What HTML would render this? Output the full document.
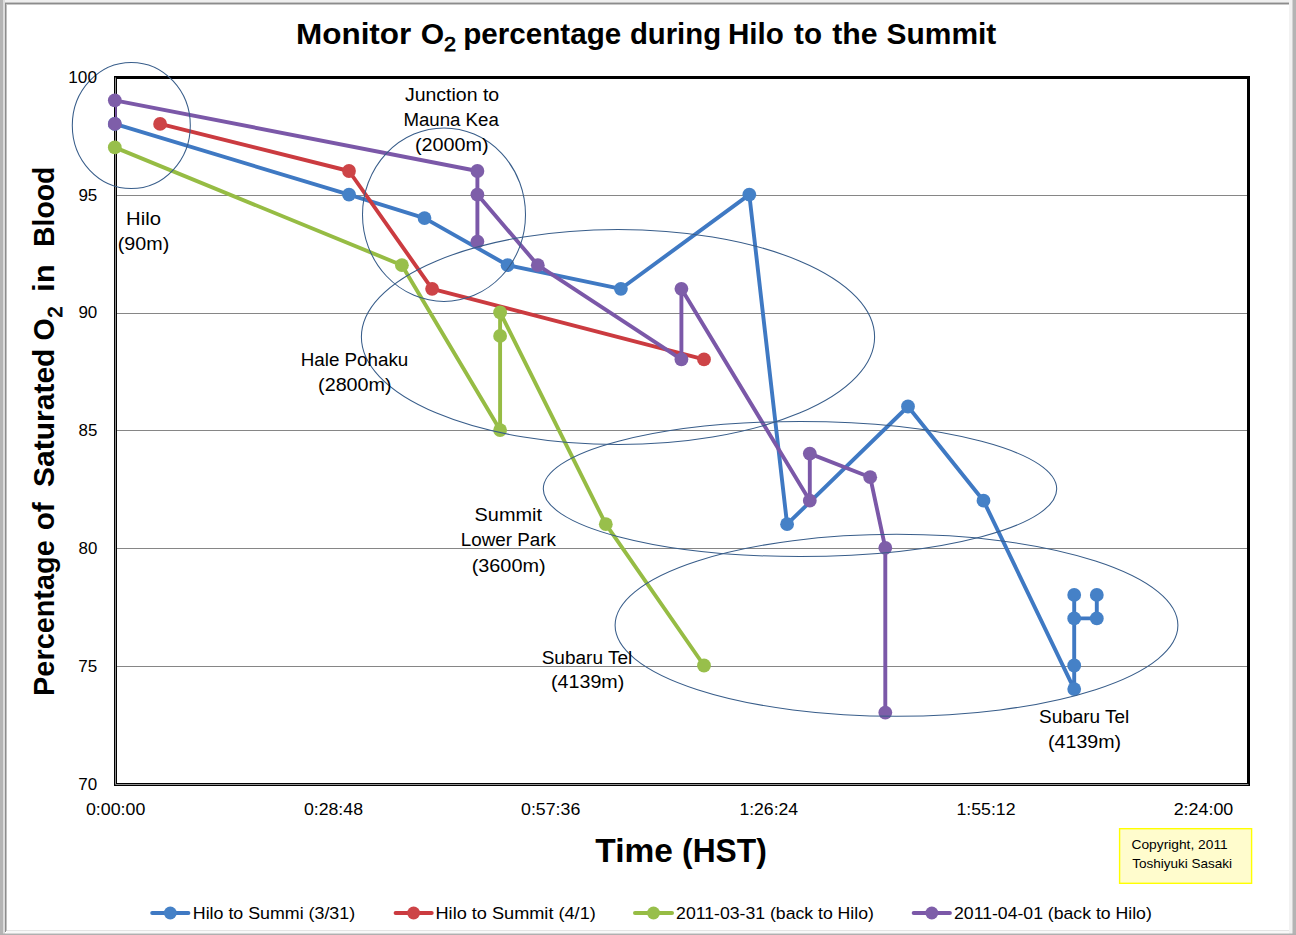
<!DOCTYPE html>
<html><head><meta charset="utf-8"><title>Monitor O2 percentage during Hilo to the Summit</title>
<style>
html,body{margin:0;padding:0;background:#fff;}
body{width:1296px;height:935px;overflow:hidden;}
svg{display:block;}
text{font-family:"Liberation Sans",sans-serif;fill:#000;}
</style></head><body>
<svg width="1296" height="935" viewBox="0 0 1296 935">
<rect x="0" y="0" width="1296" height="935" fill="#fff"/>
<rect x="0" y="0" width="1296" height="2" fill="#efefef"/>
<rect x="5" y="2" width="1285" height="1" fill="#c4c4c4"/>
<rect x="5" y="3" width="1285" height="1" fill="#8c8c8c"/>
<rect x="5" y="4" width="1285" height="1" fill="#c8c8c8"/>
<rect x="0" y="0" width="3" height="935" fill="#b4b4b4"/>
<rect x="3" y="0" width="2" height="935" fill="#dcdcdc"/>
<rect x="5" y="3" width="1" height="929" fill="#8c8c8c"/>
<rect x="6" y="4" width="1" height="927" fill="#c0c0c0"/>
<rect x="1289" y="0" width="4" height="935" fill="#f2f2f2"/>
<rect x="1292.5" y="0" width="3.5" height="935" fill="#b4b4b4"/>
<rect x="7" y="930" width="1282" height="1" fill="#e4e4e4"/>
<rect x="7" y="931" width="1282" height="2" fill="#f8f8f8"/>
<rect x="0" y="933.5" width="1296" height="1.5" fill="#b0b0b0"/>
<line x1="115.5" y1="195.5" x2="1247.0" y2="195.5" stroke="#868686" stroke-width="1"/>
<line x1="115.5" y1="313.5" x2="1247.0" y2="313.5" stroke="#868686" stroke-width="1"/>
<line x1="115.5" y1="430.5" x2="1247.0" y2="430.5" stroke="#868686" stroke-width="1"/>
<line x1="115.5" y1="548.5" x2="1247.0" y2="548.5" stroke="#868686" stroke-width="1"/>
<line x1="115.5" y1="666.5" x2="1247.0" y2="666.5" stroke="#868686" stroke-width="1"/>
<rect x="115.5" y="77.5" width="1133.0" height="707.0" fill="none" stroke="#000" stroke-width="3"/>
<line x1="115.5" y1="77.5" x2="115.5" y2="784.5" stroke="#909090" stroke-width="1"/>
<line x1="115.5" y1="784.5" x2="1248.5" y2="784.5" stroke="#909090" stroke-width="1"/>
<path d="M114.8 123.9 L349.0 194.6 L424.5 218.1 L507.6 265.2 L620.9 288.8 L749.3 194.6 L787.1 524.2 L908.0 406.5 L983.5 500.7 L1074.2 689.1 L1074.2 665.5 L1074.2 618.4 L1074.2 594.9 L1074.2 618.4 L1096.8 618.4 L1096.8 594.9" fill="none" stroke="#3f79c3" stroke-width="3.9" stroke-linejoin="round" stroke-linecap="round"/>
<circle cx="114.8" cy="123.9" r="6.9" fill="#4581c7"/>
<circle cx="349.0" cy="194.6" r="6.9" fill="#4581c7"/>
<circle cx="424.5" cy="218.1" r="6.9" fill="#4581c7"/>
<circle cx="507.6" cy="265.2" r="6.9" fill="#4581c7"/>
<circle cx="620.9" cy="288.8" r="6.9" fill="#4581c7"/>
<circle cx="749.3" cy="194.6" r="6.9" fill="#4581c7"/>
<circle cx="787.1" cy="524.2" r="6.9" fill="#4581c7"/>
<circle cx="908.0" cy="406.5" r="6.9" fill="#4581c7"/>
<circle cx="983.5" cy="500.7" r="6.9" fill="#4581c7"/>
<circle cx="1074.2" cy="689.1" r="6.9" fill="#4581c7"/>
<circle cx="1074.2" cy="665.5" r="6.9" fill="#4581c7"/>
<circle cx="1074.2" cy="618.4" r="6.9" fill="#4581c7"/>
<circle cx="1074.2" cy="594.9" r="6.9" fill="#4581c7"/>
<circle cx="1096.8" cy="618.4" r="6.9" fill="#4581c7"/>
<circle cx="1096.8" cy="594.9" r="6.9" fill="#4581c7"/>
<path d="M160.1 123.9 L349.0 171.0 L432.1 288.8 L704.0 359.4" fill="none" stroke="#cb3b40" stroke-width="3.9" stroke-linejoin="round" stroke-linecap="round"/>
<circle cx="160.1" cy="123.9" r="6.9" fill="#cd4447"/>
<circle cx="349.0" cy="171.0" r="6.9" fill="#cd4447"/>
<circle cx="432.1" cy="288.8" r="6.9" fill="#cd4447"/>
<circle cx="704.0" cy="359.4" r="6.9" fill="#cd4447"/>
<path d="M114.8 147.4 L401.9 265.2 L500.1 430.1 L500.1 335.9 L500.1 312.3 L605.8 524.2 L704.0 665.5" fill="none" stroke="#96bc44" stroke-width="3.9" stroke-linejoin="round" stroke-linecap="round"/>
<circle cx="114.8" cy="147.4" r="6.9" fill="#98bf4b"/>
<circle cx="401.9" cy="265.2" r="6.9" fill="#98bf4b"/>
<circle cx="500.1" cy="430.1" r="6.9" fill="#98bf4b"/>
<circle cx="500.1" cy="335.9" r="6.9" fill="#98bf4b"/>
<circle cx="500.1" cy="312.3" r="6.9" fill="#98bf4b"/>
<circle cx="605.8" cy="524.2" r="6.9" fill="#98bf4b"/>
<circle cx="704.0" cy="665.5" r="6.9" fill="#98bf4b"/>
<rect x="115" y="100.3" width="1.8" height="23.6" fill="#7b58a8"/>
<path d="M114.8 100.3 L477.4 171.0 L477.4 241.6 L477.4 194.6 L537.8 265.2 L681.4 359.4 L681.4 288.8 L809.8 500.7 L809.8 453.6 L870.2 477.2 L885.3 547.8 L885.3 712.6" fill="none" stroke="#7b58a8" stroke-width="3.9" stroke-linejoin="round" stroke-linecap="round"/>
<circle cx="114.8" cy="100.3" r="6.9" fill="#7e5ea9"/>
<circle cx="477.4" cy="171.0" r="6.9" fill="#7e5ea9"/>
<circle cx="477.4" cy="241.6" r="6.9" fill="#7e5ea9"/>
<circle cx="477.4" cy="194.6" r="6.9" fill="#7e5ea9"/>
<circle cx="537.8" cy="265.2" r="6.9" fill="#7e5ea9"/>
<circle cx="681.4" cy="359.4" r="6.9" fill="#7e5ea9"/>
<circle cx="681.4" cy="288.8" r="6.9" fill="#7e5ea9"/>
<circle cx="809.8" cy="500.7" r="6.9" fill="#7e5ea9"/>
<circle cx="809.8" cy="453.6" r="6.9" fill="#7e5ea9"/>
<circle cx="870.2" cy="477.2" r="6.9" fill="#7e5ea9"/>
<circle cx="885.3" cy="547.8" r="6.9" fill="#7e5ea9"/>
<circle cx="885.3" cy="712.6" r="6.9" fill="#7e5ea9"/>
<circle cx="114.8" cy="123.9" r="6.9" fill="#7e5ea9"/>
<ellipse cx="131.3" cy="125.5" rx="59" ry="63" fill="none" stroke="#385d8a" stroke-width="1.05"/>
<ellipse cx="444.0" cy="214.7" rx="81.5" ry="86.7" fill="none" stroke="#385d8a" stroke-width="1.05"/>
<ellipse cx="618.0" cy="337.0" rx="256.6" ry="107.6" fill="none" stroke="#385d8a" stroke-width="1.05"/>
<ellipse cx="800.0" cy="489.0" rx="256.7" ry="67.5" fill="none" stroke="#385d8a" stroke-width="1.05"/>
<ellipse cx="896.5" cy="625.3" rx="281.4" ry="91" fill="none" stroke="#385d8a" stroke-width="1.05"/>
<text x="68.3" y="82.6" font-size="16.90" font-weight="normal" text-anchor="start" textLength="28.7" lengthAdjust="spacingAndGlyphs">100</text>
<text x="78.4" y="200.5" font-size="16.90" font-weight="normal" text-anchor="start" textLength="18.9" lengthAdjust="spacingAndGlyphs">95</text>
<text x="78.4" y="318.4" font-size="16.90" font-weight="normal" text-anchor="start" textLength="18.9" lengthAdjust="spacingAndGlyphs">90</text>
<text x="78.5" y="436.3" font-size="16.90" font-weight="normal" text-anchor="start" textLength="18.8" lengthAdjust="spacingAndGlyphs">85</text>
<text x="78.5" y="554.2" font-size="16.90" font-weight="normal" text-anchor="start" textLength="18.8" lengthAdjust="spacingAndGlyphs">80</text>
<text x="78.3" y="672.1" font-size="16.90" font-weight="normal" text-anchor="start" textLength="19.0" lengthAdjust="spacingAndGlyphs">75</text>
<text x="78.3" y="790.0" font-size="16.90" font-weight="normal" text-anchor="start" textLength="18.9" lengthAdjust="spacingAndGlyphs">70</text>
<text x="85.9" y="815.0" font-size="16.90" font-weight="normal" text-anchor="start" textLength="59.4" lengthAdjust="spacingAndGlyphs">0:00:00</text>
<text x="303.9" y="815.0" font-size="16.90" font-weight="normal" text-anchor="start" textLength="59.1" lengthAdjust="spacingAndGlyphs">0:28:48</text>
<text x="521.0" y="815.0" font-size="16.90" font-weight="normal" text-anchor="start" textLength="59.3" lengthAdjust="spacingAndGlyphs">0:57:36</text>
<text x="739.4" y="815.0" font-size="16.90" font-weight="normal" text-anchor="start" textLength="58.7" lengthAdjust="spacingAndGlyphs">1:26:24</text>
<text x="956.5" y="815.0" font-size="16.90" font-weight="normal" text-anchor="start" textLength="59.0" lengthAdjust="spacingAndGlyphs">1:55:12</text>
<text x="1173.7" y="815.0" font-size="16.90" font-weight="normal" text-anchor="start" textLength="59.6" lengthAdjust="spacingAndGlyphs">2:24:00</text>
<text x="126.1" y="224.7" font-size="18.80" font-weight="normal" text-anchor="start" textLength="34.9" lengthAdjust="spacingAndGlyphs">Hilo</text>
<text x="117.8" y="249.7" font-size="18.80" font-weight="normal" text-anchor="start" textLength="51.4" lengthAdjust="spacingAndGlyphs">(90m)</text>
<text x="404.9" y="100.8" font-size="18.80" font-weight="normal" text-anchor="start" textLength="94.3" lengthAdjust="spacingAndGlyphs">Junction to</text>
<text x="403.4" y="125.9" font-size="18.80" font-weight="normal" text-anchor="start" textLength="95.4" lengthAdjust="spacingAndGlyphs">Mauna Kea</text>
<text x="414.9" y="151.4" font-size="18.80" font-weight="normal" text-anchor="start" textLength="73.7" lengthAdjust="spacingAndGlyphs">(2000m)</text>
<text x="300.7" y="365.5" font-size="18.80" font-weight="normal" text-anchor="start" textLength="107.6" lengthAdjust="spacingAndGlyphs">Hale Pohaku</text>
<text x="318.1" y="390.7" font-size="18.80" font-weight="normal" text-anchor="start" textLength="73.5" lengthAdjust="spacingAndGlyphs">(2800m)</text>
<text x="474.6" y="520.8" font-size="18.80" font-weight="normal" text-anchor="start" textLength="67.4" lengthAdjust="spacingAndGlyphs">Summit</text>
<text x="460.8" y="545.5" font-size="18.80" font-weight="normal" text-anchor="start" textLength="95.1" lengthAdjust="spacingAndGlyphs">Lower Park</text>
<text x="471.7" y="571.5" font-size="18.80" font-weight="normal" text-anchor="start" textLength="73.9" lengthAdjust="spacingAndGlyphs">(3600m)</text>
<text x="541.7" y="663.6" font-size="18.80" font-weight="normal" text-anchor="start" textLength="90.5" lengthAdjust="spacingAndGlyphs">Subaru Tel</text>
<text x="551.0" y="688.1" font-size="18.80" font-weight="normal" text-anchor="start" textLength="73.3" lengthAdjust="spacingAndGlyphs">(4139m)</text>
<text x="1039.0" y="722.6" font-size="18.80" font-weight="normal" text-anchor="start" textLength="90.3" lengthAdjust="spacingAndGlyphs">Subaru Tel</text>
<text x="1048.1" y="748.0" font-size="18.80" font-weight="normal" text-anchor="start" textLength="73.0" lengthAdjust="spacingAndGlyphs">(4139m)</text>
<text x="296.0" y="43.7" font-size="30.40" font-weight="bold" text-anchor="start" textLength="115.3" lengthAdjust="spacingAndGlyphs">Monitor</text>
<text x="420.7" y="43.7" font-size="30.40" font-weight="bold" text-anchor="start" textLength="23.4" lengthAdjust="spacingAndGlyphs">O</text>
<text x="444.1" y="51.2" font-size="20.00" font-weight="normal" text-anchor="start" textLength="12.0" lengthAdjust="spacingAndGlyphs" stroke="#000" stroke-width="0.75">2</text>
<text x="463.3" y="43.7" font-size="30.40" font-weight="bold" text-anchor="start" textLength="157.9" lengthAdjust="spacingAndGlyphs">percentage</text>
<text x="629.9" y="43.7" font-size="30.40" font-weight="bold" text-anchor="start" textLength="91.2" lengthAdjust="spacingAndGlyphs">during</text>
<text x="728.0" y="43.7" font-size="30.40" font-weight="bold" text-anchor="start" textLength="55.9" lengthAdjust="spacingAndGlyphs">Hilo</text>
<text x="794.1" y="43.7" font-size="30.40" font-weight="bold" text-anchor="start" textLength="27.9" lengthAdjust="spacingAndGlyphs">to</text>
<text x="832.2" y="43.7" font-size="30.40" font-weight="bold" text-anchor="start" textLength="45.4" lengthAdjust="spacingAndGlyphs">the</text>
<text x="886.5" y="43.7" font-size="30.40" font-weight="bold" text-anchor="start" textLength="109.8" lengthAdjust="spacingAndGlyphs">Summit</text>
<g transform="translate(54.2,0) rotate(-90)">
<text x="-695.9" y="0.0" font-size="30.40" font-weight="bold" text-anchor="start" textLength="155.6" lengthAdjust="spacingAndGlyphs">Percentage</text>
<text x="-530.2" y="0.0" font-size="30.40" font-weight="bold" text-anchor="start" textLength="27.9" lengthAdjust="spacingAndGlyphs">of</text>
<text x="-486.9" y="0.0" font-size="30.40" font-weight="bold" text-anchor="start" textLength="138.3" lengthAdjust="spacingAndGlyphs">Saturated</text>
<text x="-340.4" y="0.0" font-size="30.40" font-weight="bold" text-anchor="start" textLength="22.1" lengthAdjust="spacingAndGlyphs">O</text>
<text x="-317.7" y="8.0" font-size="20.00" font-weight="normal" text-anchor="start" textLength="11.4" lengthAdjust="spacingAndGlyphs" stroke="#000" stroke-width="0.75">2</text>
<text x="-291.9" y="0.0" font-size="30.40" font-weight="bold" text-anchor="start" textLength="27.7" lengthAdjust="spacingAndGlyphs">in</text>
<text x="-246.9" y="0.0" font-size="30.40" font-weight="bold" text-anchor="start" textLength="80.3" lengthAdjust="spacingAndGlyphs">Blood</text>
</g>
<text x="595.3" y="861.8" font-size="33.20" font-weight="bold" text-anchor="start" textLength="77.5" lengthAdjust="spacingAndGlyphs">Time</text>
<text x="682.1" y="861.8" font-size="33.20" font-weight="bold" text-anchor="start" textLength="84.7" lengthAdjust="spacingAndGlyphs">(HST)</text>
<rect x="1119.6" y="828.7" width="132" height="54.6" fill="#fffccd" stroke="#ffff00" stroke-width="1.4"/>
<text x="1131.5" y="848.9" font-size="12.40" font-weight="normal" text-anchor="start" textLength="96.2" lengthAdjust="spacingAndGlyphs">Copyright, 2011</text>
<text x="1132.2" y="867.5" font-size="12.40" font-weight="normal" text-anchor="start" textLength="99.9" lengthAdjust="spacingAndGlyphs">Toshiyuki Sasaki</text>
<line x1="152.2" y1="913.0" x2="188.4" y2="913.0" stroke="#3f79c3" stroke-width="4" stroke-linecap="round"/>
<circle cx="170.3" cy="913.0" r="6.5" fill="#4581c7"/>
<text x="192.8" y="918.8" font-size="16.90" font-weight="normal" text-anchor="start" textLength="162.3" lengthAdjust="spacingAndGlyphs">Hilo to Summi (3/31)</text>
<line x1="395.6" y1="913.0" x2="431.7" y2="913.0" stroke="#cb3b40" stroke-width="4" stroke-linecap="round"/>
<circle cx="413.6" cy="913.0" r="6.5" fill="#cd4447"/>
<text x="435.5" y="918.8" font-size="16.90" font-weight="normal" text-anchor="start" textLength="160.3" lengthAdjust="spacingAndGlyphs">Hilo to Summit (4/1)</text>
<line x1="635.0" y1="913.0" x2="672.0" y2="913.0" stroke="#96bc44" stroke-width="4" stroke-linecap="round"/>
<circle cx="653.5" cy="913.0" r="6.5" fill="#98bf4b"/>
<text x="676.1" y="918.8" font-size="16.90" font-weight="normal" text-anchor="start" textLength="197.8" lengthAdjust="spacingAndGlyphs">2011-03-31 (back to Hilo)</text>
<line x1="913.7" y1="913.0" x2="949.9" y2="913.0" stroke="#7b58a8" stroke-width="4" stroke-linecap="round"/>
<circle cx="931.8" cy="913.0" r="6.5" fill="#7e5ea9"/>
<text x="954.0" y="918.8" font-size="16.90" font-weight="normal" text-anchor="start" textLength="197.8" lengthAdjust="spacingAndGlyphs">2011-04-01 (back to Hilo)</text>
</svg></body></html>
